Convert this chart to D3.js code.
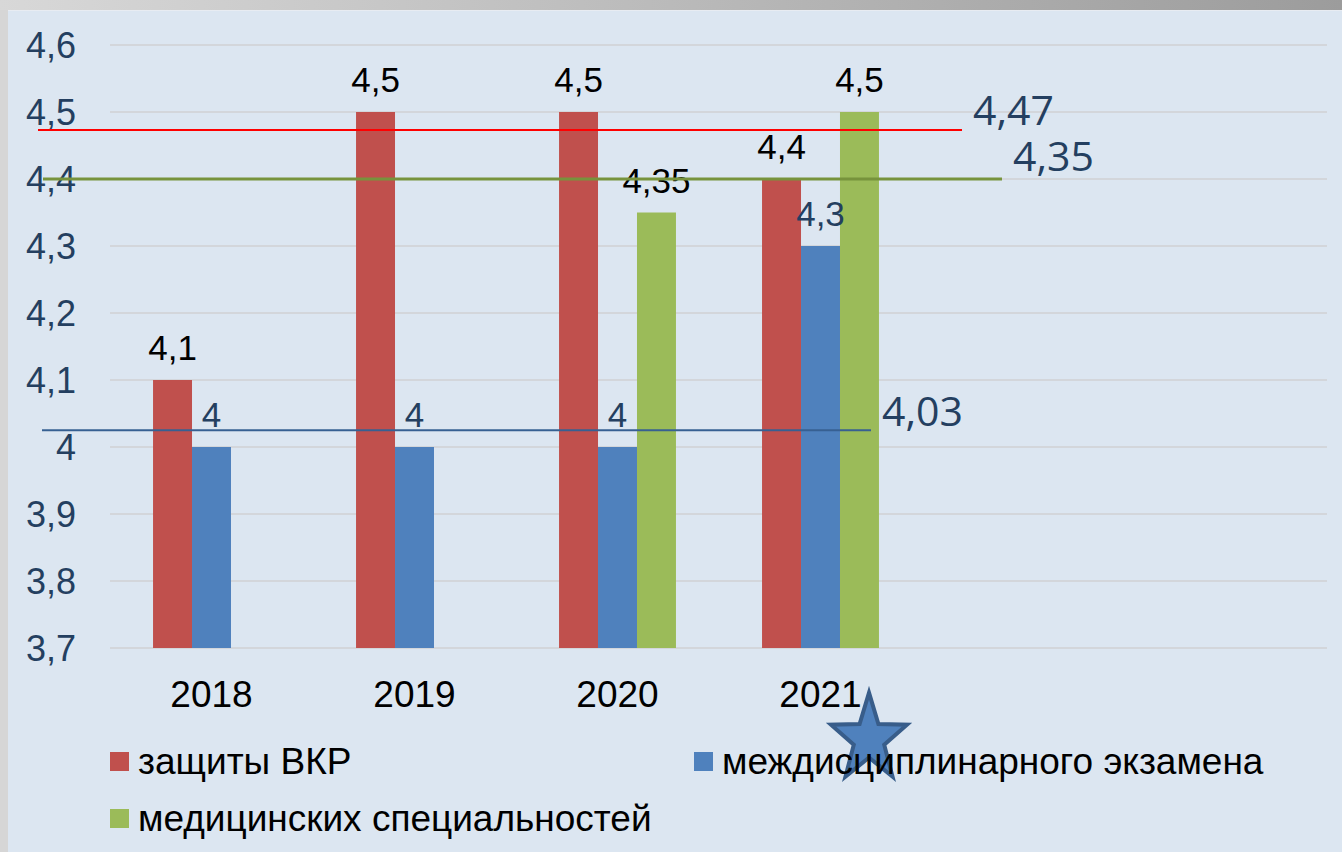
<!DOCTYPE html>
<html lang="ru">
  <head>
    <meta charset="utf-8">
    <script src="https://d3js.org/d3.v7.min.js"></script>
    <style>
    html, body { margin: 0; padding: 0; background: #d6d6d6; }
    svg { display: block; }
    </style>
  </head>
  <body>
    <div id="place"></div>
    <script type="text/javascript">
    // chart data
    const years = ["2018", "2019", "2020", "2021"];
    const seriesNames = ["защиты ВКР", "междисциплинарного экзамена", "медицинских специальностей"];
    const vkr = [4.1, 4.5, 4.5, 4.4];
    const exam = [4, 4, 4, 4.3];
    const medical = [null, null, 4.35, 4.5];
    const yTicks = [3.7, 3.8, 3.9, 4.0, 4.1, 4.2, 4.3, 4.4, 4.5, 4.6];
    // average lines drawn over the chart: level on the axis and its label
    const avgLevels = [4.473, 4.4, 4.025];
    const avgLabels = ["4,47", "4,35", "4,03"];

    const colors = ["#c0504d", "#4f81bd", "#9bbb59"];
    const labelColors = ["#000000", "#243f60", "#000000"];
    const avgColors = ["#ff0000", "#77933c", "#376092"];
    const avgSpan = [[38, 962], [43, 1002], [42, 871]];
    const avgLift = [5, 8, 4];

    const width = 1342, height = 852;
    const svg = d3.select('#place').append('svg')
        .attr('width', width).attr('height', height);

    // slide frame
    const defs = svg.append('defs');
    const grad = defs.append('linearGradient').attr('id', 'topbar');
    grad.append('stop').attr('offset', '0%').attr('stop-color', '#d8d8d8');
    grad.append('stop').attr('offset', '100%').attr('stop-color', '#9c9c9c');
    svg.append('rect').attr('x', 0).attr('y', 0).attr('width', width).attr('height', 10)
        .attr('fill', 'url(#topbar)');
    svg.append('rect').attr('x', 8).attr('y', 10).attr('width', width - 8).attr('height', height - 10)
        .attr('fill', '#dce6f1');
    svg.append('line').attr('x1', 8).attr('x2', width).attr('y1', 10.5).attr('y2', 10.5)
        .attr('stroke', '#e8ecf2').attr('stroke-width', 1);

    const plotLeft = 110, plotRight = 1327;

    const y = d3.scaleLinear().domain([3.7, 4.6]).range([648, 45]);
    const x = d3.scaleBand().domain(years).range([plotLeft, plotLeft + 203 * years.length]);
    const groupW = x.bandwidth() * 0.576;
    const x1 = d3.scaleBand().domain(d3.range(3))
        .range([(x.bandwidth() - groupW) / 2, (x.bandwidth() + groupW) / 2]);

    const fmt = v => String(v).replace('.', ',');
    const arial = 'Liberation Sans, Arial, sans-serif';

    // gridlines
    svg.append('g').selectAll('line').data(yTicks).join('line')
        .attr('x1', plotLeft).attr('x2', plotRight)
        .attr('y1', d => y(d)).attr('y2', d => y(d))
        .attr('stroke', '#d3d6db').attr('stroke-width', 2);

    // y axis labels
    svg.append('g').selectAll('text').data(yTicks).join('text')
        .attr('x', 76).attr('y', d => y(d)).attr('dy', '0.36em')
        .attr('text-anchor', 'end')
        .style('font-family', arial)
        .style('font-size', '36px').style('fill', '#243f60')
        .text(d => fmt(d));

    // bars
    const series = [vkr, exam, medical];
    const points = series.map(vals =>
        years.map((yr, i) => ({ yr: yr, v: vals[i] })).filter(d => d.v != null));
    points.forEach((pts, si) => {
      svg.append('g').selectAll('rect').data(pts).join('rect')
          .attr('x', d => x(d.yr) + x1(si))
          .attr('width', x1.bandwidth())
          .attr('y', d => y(d.v))
          .attr('height', d => y(3.7) - y(d.v))
          .attr('fill', colors[si]);
    });
    // value labels on top of all bars
    points.forEach((pts, si) => {
      svg.append('g').selectAll('text').data(pts).join('text')
          .attr('x', d => x(d.yr) + x1(si) + x1.bandwidth() / 2)
          .attr('y', d => y(d.v) - 20)
          .attr('text-anchor', 'middle')
          .style('font-family', arial)
          .style('font-size', '35px').style('fill', labelColors[si])
          .text(d => fmt(d.v));
    });

    // x axis labels
    svg.append('g').selectAll('text').data(years).join('text')
        .attr('x', d => x(d) + x.bandwidth() / 2).attr('y', 707)
        .attr('text-anchor', 'middle')
        .style('font-family', arial)
        .style('font-size', '37px').style('fill', '#000')
        .text(d => d);

    // average lines
    avgLevels.forEach((lv, i) => {
      svg.append('line')
          .attr('x1', avgSpan[i][0]).attr('x2', avgSpan[i][1])
          .attr('y1', y(lv)).attr('y2', y(lv))
          .attr('stroke', avgColors[i]).attr('stroke-width', i === 1 ? 3 : 2);
      svg.append('text')
          .attr('x', avgSpan[i][1] + 11).attr('y', y(lv) - avgLift[i])
          .style('font-family', 'Open Sans, sans-serif')
          .style('font-size', '41px').style('fill', '#243f60')
          .text(avgLabels[i]);
    });

    // star mark (under the legend text)
    const starPts = d3.range(10).map(k => {
      const r = k % 2 === 0 ? 40 : 16;
      const a = -Math.PI / 2 + k * Math.PI / 5;
      return [r * Math.cos(a), r * Math.sin(a) * 1.16];
    });
    svg.append('path')
        .attr('transform', 'translate(869,739)')
        .attr('d', d3.line()(starPts) + 'Z')
        .attr('fill', '#4f81bd').attr('stroke', '#385d8a').attr('stroke-width', 4)
        .attr('stroke-linejoin', 'miter');

    // legend
    const legendPos = [[110, 761], [694, 761], [110, 818]];
    seriesNames.forEach((name, i) => {
      const g = svg.append('g').attr('transform', `translate(${legendPos[i][0]},${legendPos[i][1]})`);
      g.append('rect').attr('x', 0).attr('y', -9).attr('width', 19).attr('height', 19)
          .attr('fill', colors[i]);
      g.append('text').attr('x', 28).attr('y', 0).attr('dy', '0.35em')
          .style('font-family', arial)
          .style('font-size', '37px').style('fill', '#000')
          .text(name);
    });
    </script>
  </body>
</html>
